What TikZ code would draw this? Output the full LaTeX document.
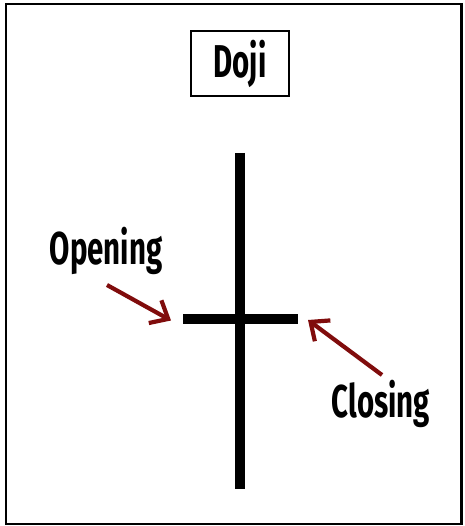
\documentclass[tikz,border=0pt]{standalone}
\usepackage{fontspec}
\setmainfont{Fira Sans}[FakeStretch=0.64]
\usepackage{xcolor}
\definecolor{arrowred}{RGB}{128, 12, 12}
\usetikzlibrary{arrows.meta, positioning, calc}

\begin{document}
\begin{tikzpicture}[x=1pt, y=1pt, >={Straight Barb[length=15pt, width=26pt]}]

        % Estilos
        \tikzstyle{title} = [rectangle, draw, line width=1.6pt, minimum width=98pt, minimum height=65pt, font=\fontsize{46}{46}\selectfont\bfseries]
        \tikzstyle{label} = [inner sep=0pt, anchor=base, font=\fontsize{46}{46}\selectfont\bfseries]
        \tikzstyle{pointer} = [->, line width=4.2pt, draw=arrowred]
        \tikzstyle{stick} = [line width=10pt, black]

        \useasboundingbox (0,0) rectangle (464,526);
        \draw [line width=2.6pt] (6,2) rectangle (461.5,522);

        % Titulo
        \node [title] (doji) at (240,462.5) {Doji};

        % Vela (pavio e corpo)
        \coordinate (wicktop) at (240,373);
        \coordinate (wickbot) at (240,37);
        \coordinate (open) at (183,207);
        \coordinate (close) at (298,207);
        \draw [stick] (wicktop) -- (wickbot);
        \draw [stick] (open) -- (close);

        % Rotulos
        \node [label] (opening) at (106,261) {Opening};
        \node [label] (closing) at (381,108) {Closing};

        % Setas
        \coordinate (opentail) at (107,241);
        \coordinate (opentip) at (171,205.5);
        \coordinate (closetail) at (382,151);
        \coordinate (closetip) at (308,206);
        \draw [pointer] (opentail) -- (opentip);
        \draw [pointer] (closetail) -- (closetip);

    \end{tikzpicture}
\end{document}
